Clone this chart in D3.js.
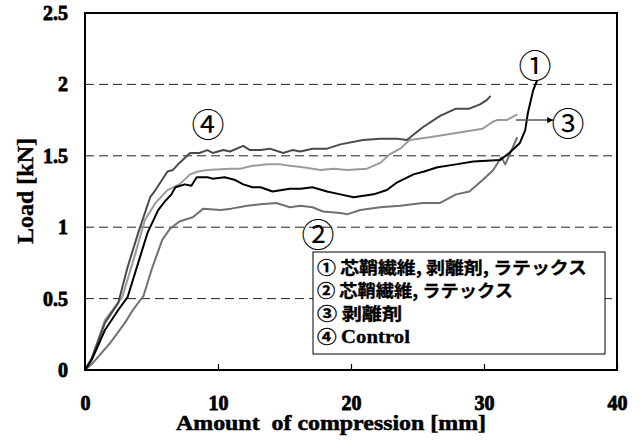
<html>
<script src="https://d3js.org/d3.v7.min.js"></script>
<body style="margin:0;background:#fff">
<div id="chart-container"></div>
<script>
// series: [amount of compression (mm), load (kN)]
const curve1 = [[0,0],[0.5,0.07],[1.5,0.28],[2.5,0.42],[3.2,0.51],[4.0,0.75],[4.7,0.96],[5.5,1.12],[6.0,1.18],[6.5,1.23],
  [6.8,1.28],[7.5,1.30],[8.0,1.29],[8.4,1.35],[9.2,1.35],[9.6,1.34],[10.5,1.35],[11.3,1.33],[11.9,1.30],[12.6,1.28],
  [13.2,1.28],[14.1,1.25],[15.4,1.27],[16.2,1.27],[17.1,1.28],[18.2,1.25],[19.2,1.23],[20.2,1.21],[21.7,1.23],[22.7,1.26],
  [23.4,1.31],[24.7,1.37],[25.5,1.39],[26.5,1.42],[27.9,1.44],[29.2,1.46],[31.2,1.47],[31.9,1.52],[32.7,1.59],[33.1,1.68],
  [33.3,1.80],[33.5,1.88],[33.7,1.96],[34.0,2.03]];
const curve2 = [[0,0],[0.5,0.04],[1.9,0.19],[3.0,0.33],[3.6,0.42],[4.4,0.52],[5.0,0.70],[5.8,0.91],[6.4,0.99],[7.1,1.04],
  [8.1,1.07],[8.9,1.13],[10.2,1.12],[11.0,1.13],[12.2,1.15],[13.2,1.16],[14.4,1.17],[15.4,1.14],[16.2,1.15],[17.1,1.14],
  [17.9,1.11],[19.2,1.10],[19.7,1.09],[20.7,1.12],[22.2,1.14],[23.7,1.15],[25.4,1.17],[26.7,1.17],[27.9,1.23],[28.9,1.25],
  [29.9,1.33],[30.7,1.40],[31.3,1.49],[31.6,1.44],[32.5,1.63]];
const curve3 = [[0,0],[0.5,0.08],[1.5,0.35],[2.8,0.51],[3.8,0.82],[4.5,1.05],[5.3,1.17],[6.2,1.26],[7.1,1.30],[7.9,1.37],
  [8.5,1.39],[9.2,1.40],[10.9,1.41],[11.7,1.41],[12.6,1.43],[13.7,1.44],[14.7,1.44],[15.4,1.43],[16.4,1.42],[17.7,1.40],
  [18.7,1.41],[19.7,1.40],[21.2,1.41],[22.2,1.45],[22.9,1.51],[23.7,1.55],[24.4,1.61],[25.9,1.63],[27.9,1.66],[29.9,1.69],
  [30.7,1.74],[31.0,1.75],[31.7,1.75],[32.5,1.79]];
const curve4 = [[0,0],[0.5,0.08],[1.5,0.33],[2.5,0.47],[3.2,0.72],[4.0,0.96],[4.9,1.21],[5.3,1.26],[6.2,1.39],[6.6,1.40],
  [7.1,1.45],[7.9,1.52],[8.6,1.52],[9.2,1.54],[9.6,1.52],[10.4,1.54],[10.9,1.53],[11.9,1.57],[12.4,1.54],[13.2,1.54],
  [13.9,1.55],[14.9,1.52],[15.6,1.54],[16.2,1.53],[17.1,1.55],[18.2,1.55],[19.2,1.58],[20.9,1.61],[22.2,1.62],[23.5,1.62],
  [24.2,1.61],[25.4,1.70],[26.7,1.78],[27.9,1.83],[28.9,1.83],[29.7,1.86],[30.2,1.89],[30.5,1.92]];

const seriesNames = ["① 芯鞘繊維, 剥離剤, ラテックス", "② 芯鞘繊維, ラテックス", "③ 剥離剤", "④ Control"];
const legendWidths = [270, 196, 85, 93];
const xTicks = [0, 10, 20, 30, 40];
const yTicks = [0, 0.5, 1, 1.5, 2, 2.5];
const gridValues = [0.5, 1, 1.5, 2];

const width = 642, height = 448;
const plotLeft = 85, plotRight = 617, plotTop = 13, plotBottom = 370;
const serif = "'Liberation Serif', 'Times New Roman', serif";
const gothic = "'Noto Sans CJK JP', sans-serif";

const svg = d3.select("#chart-container").append("svg")
  .attr("width", width).attr("height", height)
  .style("font-family", serif);

const x = d3.scaleLinear().domain([0, 40]).range([plotLeft, plotRight]);
const y = d3.scaleLinear().domain([0, 2.5]).range([plotBottom, plotTop]);

// dashed gridlines
svg.append("g").selectAll("line").data(gridValues).enter().append("line")
  .attr("x1", plotLeft).attr("x2", plotRight)
  .attr("y1", d => y(d)).attr("y2", d => y(d))
  .attr("stroke", "#222").attr("stroke-width", 1)
  .attr("stroke-dasharray", "9,5");

// x axis - ticks pointing inward
const xAxis = svg.append("g").attr("transform", `translate(0,${plotBottom})`)
  .call(d3.axisBottom(x).tickValues(xTicks).tickSizeInner(-6).tickSizeOuter(0).tickPadding(26).tickFormat(d => String(d)));
xAxis.select(".domain").remove();
xAxis.selectAll("line").attr("stroke", "#000").attr("stroke-width", 1.2);
xAxis.selectAll("text").attr("font-size", 20).attr("font-weight", "bold").attr("fill", "#000")
  .attr("font-family", serif).attr("stroke", "#000").attr("stroke-width", 0.8);

const yAxis = svg.append("g").attr("transform", `translate(${plotLeft},0)`)
  .call(d3.axisLeft(y).tickValues(yTicks).tickSize(0).tickPadding(17).tickFormat(d => String(d)));
yAxis.select(".domain").remove();
yAxis.selectAll("text").attr("font-size", 20).attr("font-weight", "bold").attr("fill", "#000")
  .attr("font-family", serif).attr("stroke", "#000").attr("stroke-width", 0.8);

// curves
const line = d3.line().x(d => x(d[0])).y(d => y(d[1]));
const curves = [
  {data: curve2, color: "#707070"},
  {data: curve3, color: "#9a9a9a"},
  {data: curve4, color: "#4a4a4a"},
  {data: curve1, color: "#000"}
];
curves.forEach(c => {
  svg.append("path").datum(c.data)
    .attr("fill", "none").attr("stroke", c.color)
    .attr("stroke-width", 2).attr("stroke-linejoin", "round")
    .attr("d", line);
});

// plot frame
svg.append("rect")
  .attr("x", plotLeft).attr("y", plotTop)
  .attr("width", plotRight - plotLeft).attr("height", plotBottom - plotTop)
  .attr("fill", "none").attr("stroke", "#000").attr("stroke-width", 2);

// arrow pointing to curve 3 label
svg.append("defs").append("marker")
  .attr("id", "arrow").attr("viewBox", "0 0 10 10")
  .attr("refX", 10).attr("refY", 5)
  .attr("markerWidth", 4).attr("markerHeight", 4)
  .attr("orient", "auto")
  .append("path").attr("d", "M0,0 L10,5 L0,10 z").attr("fill", "#000");
svg.append("line")
  .attr("x1", x(32.4)).attr("y1", y(1.75))
  .attr("x2", x(35.2)).attr("y2", y(1.75))
  .attr("stroke", "#555").attr("stroke-width", 1.5)
  .attr("marker-end", "url(#arrow)");

// circled labels on the curves
const labels = [["①", 535, 64], ["②", 318, 233], ["③", 568, 122], ["④", 208, 123]];
svg.append("g").selectAll("text").data(labels).enter().append("text")
  .attr("x", d => d[1]).attr("y", d => d[2])
  .attr("text-anchor", "middle").attr("dominant-baseline", "central")
  .attr("font-family", gothic)
  .attr("font-size", 33).attr("fill", "#000")
  .text(d => d[0]);

// legend
const legend = svg.append("g");
legend.append("rect")
  .attr("x", 313).attr("y", 252).attr("width", 292).attr("height", 102)
  .attr("fill", "#fff").attr("stroke", "#000").attr("stroke-width", 1);
legend.selectAll("text").data(seriesNames).enter().append("text")
  .attr("x", 317).attr("y", (d, i) => 274 + i * 23)
  .attr("font-family", gothic)
  .attr("font-weight", "bold").attr("font-size", 17).attr("fill", "#000")
  .attr("stroke", "#000").attr("stroke-width", 0.3)
  .attr("textLength", (d, i) => legendWidths[i]).attr("lengthAdjust", "spacingAndGlyphs")
  .each(function(d) {
    const t = d3.select(this);
    if (d.indexOf("Control") >= 0) {
      t.append("tspan").text("④ ");
      t.append("tspan").attr("font-family", serif).attr("font-size", 18).text("Control");
    } else {
      t.text(d);
    }
  });

// axis titles
svg.append("text")
  .attr("x", 331).attr("y", 430)
  .attr("text-anchor", "middle")
  .attr("font-family", serif)
  .attr("font-size", 20).attr("font-weight", "bold")
  .attr("stroke", "#000").attr("stroke-width", 0.5)
  .attr("textLength", 310).attr("lengthAdjust", "spacingAndGlyphs")
  .text("Amount\u00a0 of compression [mm]");

svg.append("text")
  .attr("transform", "translate(33,191) rotate(-90)")
  .attr("text-anchor", "middle")
  .attr("font-family", serif)
  .attr("font-size", 24).attr("font-weight", "bold")
  .attr("stroke", "#000").attr("stroke-width", 0.4)
  .text("Load [kN]");
</script>
</body>
</html>
